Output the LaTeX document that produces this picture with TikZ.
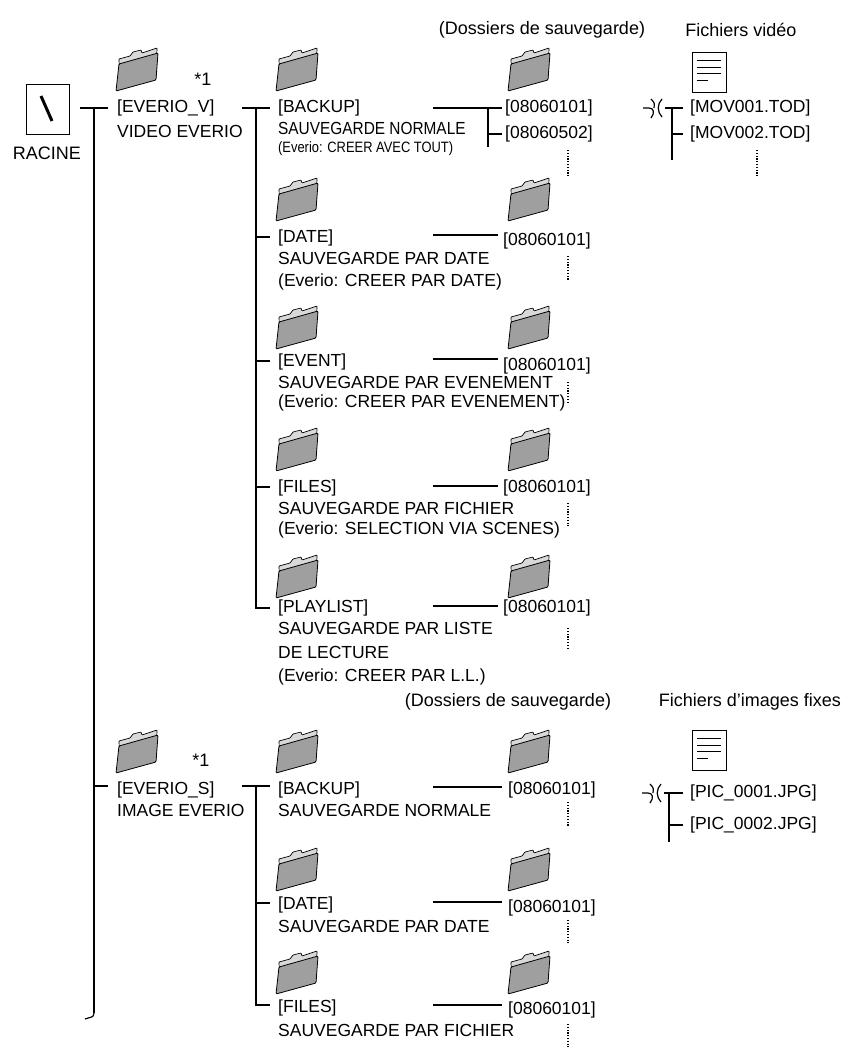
\documentclass[tikz,border=0pt]{standalone}
\usepackage{fontspec}
\setmainfont{Liberation Sans}
\begin{document}
\begin{tikzpicture}[x=1pt,y=-1pt,
  txt/.style={anchor=west,inner sep=0pt,font=\fontsize{17.5}{17.5}\selectfont},
  sm/.style={anchor=west,inner sep=0pt,font=\fontsize{15}{15}\selectfont},
  hdr/.style={inner sep=0pt,font=\fontsize{18}{18}\selectfont},
  tree/.style={line width=2.6pt},
  link/.style={line width=2pt},
  dots/.style={line width=1.2pt,dash pattern=on 1.2pt off 1.6pt},
  folder/.pic={
    \fill[gray!30,draw=black,line width=0.7pt,rounded corners=0.6pt]
      (4,14) -- (15,11) -- (18,7) -- (26,5) -- (27,8) -- (42,3) -- (41,32) -- (5,42) -- cycle;
    \fill[gray!75,draw=black,line width=0.8pt,rounded corners=1pt]
      (1,46) -- (4,19) -- (43,8) -- (41,35) -- cycle;
  },
  fileicon/.pic={
    \draw[line width=0.9pt,fill=white] (0,0) rectangle (34,40);
    \foreach \yy in {8,15,21} \draw[line width=0.9pt] (5,\yy) -- (29,\yy);
    \draw[line width=0.9pt] (5,28) -- (16,28);
  }]
\useasboundingbox (0,0) rectangle (851,1054);

% ---------- root ----------
\node[draw,line width=0.9pt,minimum width=43pt,minimum height=50pt,inner sep=0pt] (root) at (47.5,109) {};
\draw[line width=3pt] (41,96) -- (52,121);
\node[hdr] (racine) at (47,153) {RACINE};
\coordinate (rj) at (94,108);
\coordinate (rend) at (94,1013);
\draw[tree] (80,108) -- (108,108);
\draw[tree] (rj) -- (rend);
\draw[line width=1.2pt] (rend) .. controls (94,1018) and (90,1017) .. (85,1019);
\draw[tree] (94,786) -- (108,786);

% ---------- headers ----------
\node[hdr] (h1) at (542,30) {(Dossiers de sauvegarde)};
\node[hdr] (h2) at (741,30) {Fichiers vidéo};
\node[hdr] (h3) at (508,702) {(Dossiers de sauvegarde)};
\node[hdr] (h4) at (750,702) {Fichiers d’images fixes};

% ---------- EVERIO_V ----------
\pic at (115,45) {folder};
\node[hdr] (st1) at (203,79) {*1};
\node[txt] (ev) at (117,108) {[EVERIO\_V]};
\node[txt] (evd) at (117,131) {VIDEO EVERIO};
\draw[tree] (242,108) -- (270,108);
\draw[tree,line cap=butt] (256,108) -- (256,608) -- (270,608);
\foreach \yy in {237,361,487} \draw[tree] (256,\yy) -- (270,\yy);

% folders
\foreach \yy in {45,175,303,425,552,727,845,948} \pic at (275,\yy) {folder};
\foreach \yy in {45,175,303,425,552,727,845,948} \pic at (507,\yy) {folder};

% BACKUP
\node[txt] (b1) at (278,108) {[BACKUP]};
\node[txt] (b1a) at (278,128) {\scalebox{0.88}[1]{SAUVEGARDE NORMALE}};
\node[sm] (b1b) at (278,149) {\scalebox{0.86}[1]{(Everio: CREER AVEC TOUT)}};
\coordinate (bj) at (488,108);
\draw[link] (433,108) -- (502,108);
\draw[link] (bj) -- (488,147);
\draw[link] (488,134) -- (502,134);
\node[txt] (n1) at (505,108) {[08060101]};
\node[txt] (n2) at (505,134) {[08060502]};
\draw[dots] (568,150) -- (568,176);

% break + files
\draw[line width=1.2pt] (643,108) -- (649,108) .. controls (654,108) and (655,113) .. (651,118);
\draw[line width=1.2pt] (651,99) .. controls (655,103) and (655,105) .. (654,108);
\draw[line width=1.2pt] (662,99) .. controls (657,104) and (657,112) .. (662,117);
\pic at (692,52) {fileicon};
\draw[tree] (665,108) -- (683,108);
\draw[tree] (672,108) -- (672,160);
\draw[tree] (672,134) -- (683,134);
\node[txt] (m1) at (690,108) {[MOV001.TOD]};
\node[txt] (m2) at (690,134) {[MOV002.TOD]};
\draw[dots] (757,150) -- (757,176);

% DATE
\node[txt] (d1) at (278,238) {[DATE]};
\node[txt] (d1a) at (278,258) {SAUVEGARDE PAR DATE};
\node[txt] (d1b) at (278,282) {(Everio: CREER PAR DATE)};
\draw[link] (433,235) -- (498,235);
\node[txt] (dn) at (503,241) {[08060101]};
\draw[dots] (568,256) -- (568,280);

% EVENT
\node[txt] (e1) at (278,362) {[EVENT]};
\node[txt] (e1a) at (278,382) {SAUVEGARDE PAR EVENEMENT};
\node[txt] (e1b) at (278,403) {(Everio: CREER PAR EVENEMENT)};
\draw[link] (433,359) -- (498,359);
\node[txt] (en) at (503,366) {[08060101]};
\draw[dots] (568,382) -- (568,404);

% FILES
\node[txt] (f1) at (278,488) {[FILES]};
\node[txt] (f1a) at (278,508) {SAUVEGARDE PAR FICHIER};
\node[txt] (f1b) at (278,530) {(Everio: SELECTION VIA SCENES)};
\draw[link] (433,486) -- (498,486);
\node[txt] (fn) at (503,488) {[08060101]};
\draw[dots] (568,503) -- (568,526);

% PLAYLIST
\node[txt] (p1) at (278,608) {[PLAYLIST]};
\node[txt] (p1a) at (278,628) {SAUVEGARDE PAR LISTE};
\node[txt] (p1b) at (278,652) {DE LECTURE};
\node[txt] (p1c) at (278,677) {(Everio: CREER PAR L.L.)};
\draw[link] (433,606) -- (498,606);
\node[txt] (pn) at (503,608) {[08060101]};
\draw[dots] (568,628) -- (568,650);

% ---------- EVERIO_S ----------
\pic at (115,727) {folder};
\node[hdr] (st2) at (201,760) {*1};
\node[txt] (es) at (117,790) {[EVERIO\_S]};
\node[txt] (esd) at (117,810) {IMAGE EVERIO};
\draw[tree] (242,786) -- (270,786);
\draw[tree,line cap=butt] (256,786) -- (256,1005) -- (270,1005);
\draw[tree] (256,903) -- (270,903);

\node[txt] (sb) at (278,790) {[BACKUP]};
\node[txt] (sba) at (278,810) {SAUVEGARDE NORMALE};
\draw[link] (433,787) -- (502,787);
\node[txt] (sbn) at (508,790) {[08060101]};
\draw[dots] (568,802) -- (568,826);

\node[txt] (sd) at (278,905) {[DATE]};
\node[txt] (sda) at (278,926) {SAUVEGARDE PAR DATE};
\draw[link] (433,902) -- (502,902);
\node[txt] (sdn) at (508,908) {[08060101]};
\draw[dots] (568,920) -- (568,943);

\node[txt] (sf) at (278,1008) {[FILES]};
\node[txt] (sfa) at (278,1030) {SAUVEGARDE PAR FICHIER};
\draw[link] (433,1005) -- (502,1005);
\node[txt] (sfn) at (508,1010) {[08060101]};
\draw[dots] (568,1024) -- (568,1047);

% break + image files
\draw[line width=1.2pt] (642,793) -- (648,793) .. controls (653,793) and (654,798) .. (650,803);
\draw[line width=1.2pt] (650,784) .. controls (654,788) and (654,790) .. (653,793);
\draw[line width=1.2pt] (661,784) .. controls (656,789) and (656,797) .. (661,802);
\pic at (692,730) {fileicon};
\draw[tree] (664,793) -- (683,793);
\draw[tree] (669,793) -- (669,842);
\draw[tree] (669,825) -- (683,825);
\node[txt] (pic1) at (690,793) {[PIC\_0001.JPG]};
\node[txt] (pic2) at (690,825) {[PIC\_0002.JPG]};
\end{tikzpicture}
\end{document}
